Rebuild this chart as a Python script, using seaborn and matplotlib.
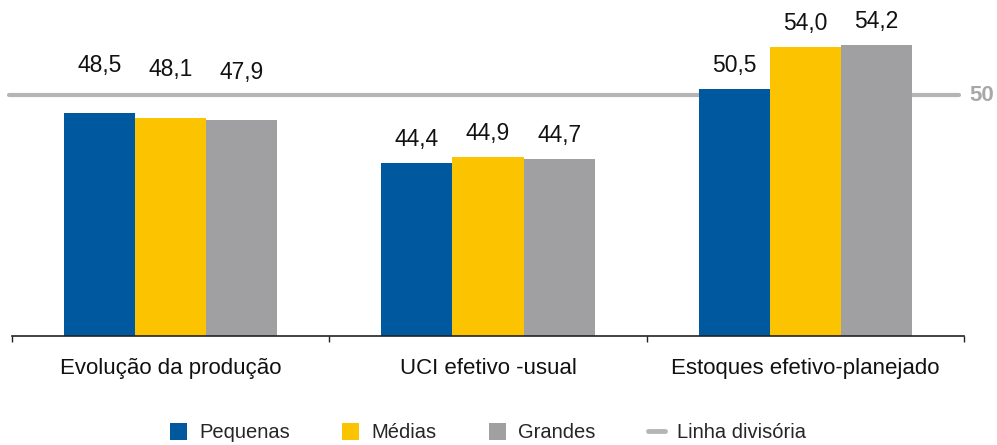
import pandas as pd
import matplotlib.pyplot as plt
import seaborn as sns
from matplotlib.patches import Patch
from matplotlib.lines import Line2D
from matplotlib.ticker import FixedLocator

# --- data ---
categories = ['Evolução da produção', 'UCI efetivo -usual', 'Estoques efetivo-planejado']
sizes = ['Pequenas', 'Médias', 'Grandes']
pequenas = [48.5, 44.4, 50.5]
medias = [48.1, 44.9, 54.0]
grandes = [47.9, 44.7, 54.2]
divide_value = 50
divide_label = 'Linha divisória'

colors = ['#00599E', '#FCC300', '#A0A0A2']
line_color = '#B5B5B5'

df = pd.DataFrame({
    'categoria': categories * 3,
    'porte': [s for s in sizes for _ in categories],
    'valor': pequenas + medias + grandes,
})

sns.set_style('white')
plt.rcParams['font.family'] = ['Liberation Sans', 'DejaVu Sans']

fig = plt.figure(figsize=(9.97, 4.45), dpi=100)
ax = fig.add_axes([12 / 997, 109 / 445, 952 / 997, 336 / 445])

# dividing line behind the bars
ax.axhline(divide_value, xmin=-0.003, xmax=0.995, color=line_color, lw=3.0,
           zorder=1, clip_on=False)

sns.barplot(data=df, x='categoria', y='valor', hue='porte', order=categories,
            hue_order=sizes, palette=colors, width=0.672, saturation=1,
            linewidth=0, legend=False, ax=ax, zorder=2)

ax.set_ylim(30, 57.9)
ax.set_xlim(-0.5, 2.5)

# value labels
for cont in ax.containers:
    for bar in cont:
        v = bar.get_height()
        # push labels that would sit on the dividing line above it
        off = 4.0 if divide_value - 3 < v < divide_value else 1.95
        ax.text(bar.get_x() + bar.get_width() / 2, v + off,
                f'{v:.1f}'.replace('.', ','), ha='center', va='center',
                fontsize=16.5, color='#111111')

ax.text(1.006, divide_value, str(divide_value), transform=ax.get_yaxis_transform(),
        ha='left', va='center', fontsize=16, fontweight='bold', color='#A8A8A8')

# axes styling
for s in ['top', 'left', 'right']:
    ax.spines[s].set_visible(False)
ax.spines['bottom'].set_color('#222222')
ax.spines['bottom'].set_linewidth(1.2)
ax.set_yticks([])
ax.set_xlabel('')
ax.set_ylabel('')
ax.set_xticks(range(len(categories)))
ax.set_xticklabels(categories, fontsize=16, color='#111111')
ax.tick_params(axis='x', which='major', bottom=True, length=0, pad=16)
ax.xaxis.set_minor_locator(FixedLocator([-0.5, 0.5, 1.5, 2.5]))
ax.tick_params(axis='x', which='minor', bottom=True, length=4.5, width=1.0,
               color='#222222', direction='out')

# legend
handles = [Patch(facecolor=c, edgecolor='none') for c in colors]
handles.append(Line2D([], [], color=line_color, lw=3.5))
fig.legend(handles, sizes + [divide_label], loc='center',
           bbox_to_anchor=(0.4895, 0.027), ncol=4, frameon=False, fontsize=14.5,
           handlelength=0.85, handleheight=0.85, handletextpad=0.6,
           columnspacing=2.6, borderaxespad=0, borderpad=0)

fig.savefig('out.png', dpi=100)
